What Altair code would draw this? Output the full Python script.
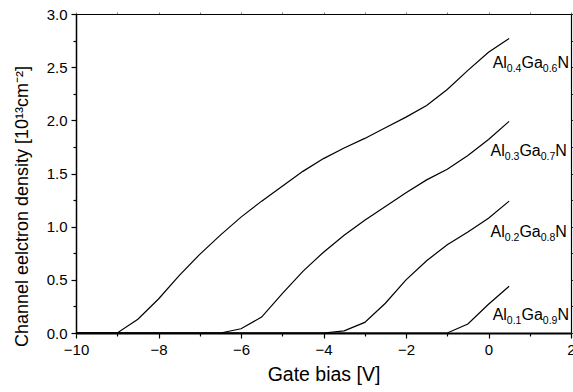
import altair as alt
import pandas as pd

# ---- data ----
gate_bias = [-10.0, -9.5, -9.0, -8.5, -8.0, -7.5, -7.0, -6.5, -6.0, -5.5, -5.0,
             -4.5, -4.0, -3.5, -3.0, -2.5, -2.0, -1.5, -1.0, -0.5, 0.0, 0.5]
n_al04 = [0, 0, 0, 0.13, 0.32, 0.54, 0.74, 0.92, 1.09, 1.24, 1.38,
          1.52, 1.64, 1.74, 1.83, 1.93, 2.03, 2.14, 2.29, 2.47, 2.64, 2.77]
n_al03 = [0, 0, 0, 0, 0, 0, 0, 0, 0.04, 0.15, 0.37,
          0.58, 0.76, 0.92, 1.06, 1.19, 1.32, 1.44, 1.54, 1.67, 1.82, 1.99]
n_al02 = [0, 0, 0, 0, 0, 0, 0, 0, 0, 0, 0,
          0, 0, 0.02, 0.10, 0.28, 0.50, 0.68, 0.83, 0.95, 1.08, 1.24]
n_al01 = [0, 0, 0, 0, 0, 0, 0, 0, 0, 0, 0,
          0, 0, 0, 0, 0, 0, 0, 0, 0.085, 0.27, 0.44]

series_names = ["Al0.4Ga0.6N", "Al0.3Ga0.7N", "Al0.2Ga0.8N", "Al0.1Ga0.9N"]
al_frac = ["0.4", "0.3", "0.2", "0.1"]
ga_frac = ["0.6", "0.7", "0.8", "0.9"]

x_major = [-10, -8, -6, -4, -2, 0, 2]
x_minor = [-9, -7, -5, -3, -1, 1]
y_major = [0.0, 0.5, 1.0, 1.5, 2.0, 2.5, 3.0]
y_minor = [0.25, 0.75, 1.25, 1.75, 2.25, 2.75]

rows = []
for name, vals in zip(series_names, [n_al04, n_al03, n_al02, n_al01]):
    for xv, yv in zip(gate_bias, vals):
        rows.append({"x": xv, "y": yv, "series": name})
df = pd.DataFrame(rows)

# label anchors (annotation placement)
lab = pd.DataFrame({
    "x": [0.1, 0.05, 0.05, 0.1],
    "y": [2.49, 1.66, 0.906, 0.122],
    "al": ["Al"] * 4,
    "a": al_frac,
    "ga": ["Ga"] * 4,
    "g": ga_frac,
    "n": ["N"] * 4,
})

FONT = "Liberation Sans"
xs = alt.Scale(domain=[-10, 2], nice=False, zero=False)
ys = alt.Scale(domain=[0, 3], nice=False, zero=False)

ax_x = alt.Axis(orient="bottom", values=x_major, tickSize=5, tickWidth=1.2,
                domainWidth=2, domainColor="black", tickColor="black",
                labelFont=FONT, labelFontSize=15, labelColor="black", labelPadding=4,
                title="Gate bias [V]", titleFont=FONT, titleFontSize=19.5,
                titleFontWeight="normal", titleColor="black", titlePadding=8,
                grid=False, labelFlush=False)
ax_y = alt.Axis(orient="left", values=y_major, format=".1f", tickSize=5, tickWidth=1.2,
                domainWidth=1.5, domainColor="black", tickColor="black",
                labelFont=FONT, labelFontSize=15, labelColor="black", labelPadding=4,
                title="Channel eelctron density [10¹³cm⁻²]", titleFont=FONT,
                titleFontSize=18, titleFontWeight="normal", titleColor="black",
                titlePadding=15, titleLimit=420, titleY=192, grid=False, labelFlush=False)

ax_x_minor = alt.Axis(orient="bottom", values=x_minor, tickSize=3, tickWidth=1.2,
                      tickColor="black", labels=False, domain=False, title=None, grid=False)
ax_y_minor = alt.Axis(orient="left", values=y_minor, tickSize=3, tickWidth=1.2,
                      tickColor="black", labels=False, domain=False, title=None, grid=False)
ax_x_top = alt.Axis(orient="top", values=x_major + x_minor, tickSize=2, tickWidth=1,
                    tickColor="#777777", labels=False, domainColor="black", domainWidth=1.2,
                    title=None, grid=False)
ax_y_right = alt.Axis(orient="right", values=y_major + y_minor, tickSize=2, tickWidth=1,
                      tickColor="#333333", labels=False, domainColor="black",
                      domainWidth=1.2, title=None, grid=False)

lines = alt.Chart(df).mark_line(color="black", strokeWidth=1.2).encode(
    x=alt.X("x:Q", scale=xs, axis=ax_x),
    y=alt.Y("y:Q", scale=ys, axis=ax_y),
    detail="series:N",
)
minor = alt.Chart(df).mark_point(opacity=0).encode(
    x=alt.X("x:Q", scale=xs, axis=ax_x_minor),
    y=alt.Y("y:Q", scale=ys, axis=ax_y_minor),
)
frame = alt.Chart(df).mark_point(opacity=0).encode(
    x=alt.X("x:Q", scale=xs, axis=ax_x_top),
    y=alt.Y("y:Q", scale=ys, axis=ax_y_right),
)

def piece(field, dx, dy, size):
    return alt.Chart(lab).mark_text(
        align="left", baseline="alphabetic", font=FONT, fontSize=size,
        color="black", dx=dx, dy=dy
    ).encode(x=alt.X("x:Q", scale=xs, axis=None),
             y=alt.Y("y:Q", scale=ys, axis=None),
             text=f"{field}:N")

MAIN, SUB = 16, 10.5
w_al = 0.889 * MAIN
w_sub = 1.39 * SUB
w_ga = 1.334 * MAIN
texts = [
    piece("al", 0, 0, MAIN),
    piece("a", w_al, 4, SUB),
    piece("ga", w_al + w_sub, 0, MAIN),
    piece("g", w_al + w_sub + w_ga, 4, SUB),
    piece("n", w_al + 2 * w_sub + w_ga, 0, MAIN),
]

chart = alt.layer(frame, minor, lines, *texts).resolve_axis(
    x="independent", y="independent"
).properties(
    width=495, height=319,
    autosize=alt.AutoSizeParams(type="none"),
    padding={"left": 76, "top": 14, "right": 2, "bottom": 59},
).configure_view(stroke=None).configure(background="white")

chart.save("out.html", embed_options={"renderer": "svg", "actions": False})
